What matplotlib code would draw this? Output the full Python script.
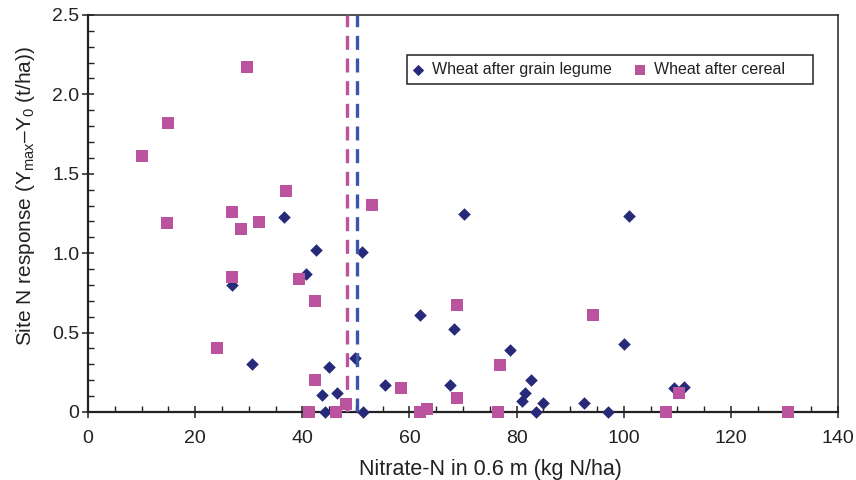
import matplotlib
matplotlib.use('Agg')
import matplotlib.pyplot as plt
from matplotlib.patches import Rectangle
from matplotlib.ticker import MultipleLocator, FuncFormatter

plt.rcParams['font.family'] = ['Liberation Sans', 'DejaVu Sans']
plt.rcParams['mathtext.fontset'] = 'custom'
plt.rcParams['mathtext.rm'] = 'Liberation Sans'
plt.rcParams['mathtext.it'] = 'Liberation Sans:italic'

# wheat after grain legume (diamonds)
legume_x = [26.9, 30.6, 36.5, 40.6, 42.5, 43.7, 44.9, 46.4, 44.3, 49.8,
            51.2, 51.3, 55.5, 61.9, 67.5, 68.3, 70.2, 78.8, 81.1, 81.5,
            82.6, 83.7, 84.9, 92.5, 97.1, 100.0, 101.0, 109.3, 111.3]
legume_y = [0.80, 0.30, 1.23, 0.87, 1.02, 0.11, 0.285, 0.12, 0.0, 0.34,
            1.01, 0.0, 0.17, 0.61, 0.17, 0.525, 1.245, 0.39, 0.067, 0.118,
            0.20, 0.0, 0.055, 0.055, 0.0, 0.43, 1.234, 0.149, 0.155]

# wheat after cereal (squares)
cereal_x = [10.1, 15.0, 14.7, 24.1, 26.8, 26.9, 28.6, 29.7, 31.9, 36.9,
            39.3, 42.4, 42.4, 41.3, 46.2, 48.2, 53.0, 58.4, 62.0, 63.2,
            68.9, 68.9, 76.9, 76.5, 94.3, 107.8, 110.3, 130.7]
cereal_y = [1.614, 1.818, 1.19, 0.405, 0.852, 1.26, 1.154, 2.175, 1.196, 1.394,
            0.838, 0.70, 0.20, 0.0, 0.0, 0.05, 1.305, 0.153, 0.0, 0.02,
            0.674, 0.086, 0.298, 0.0, 0.611, 0.0, 0.122, 0.0]

# critical nitrate levels (dashed lines)
cereal_crit = 48.4
legume_crit = 50.3

navy = '#262a78'
pink = '#bc539f'
blue = '#3a56a8'
ink = '#222222'

fig = plt.figure(figsize=(8.56, 4.8), dpi=100)
ax = fig.add_axes([0.1028, 0.1417, 0.8762, 0.8271])

ax.scatter(legume_x, legume_y, marker='D', s=6.4 ** 2, color=navy, lw=0,
           zorder=3, label='Wheat after grain legume', clip_on=False)
ax.axvline(cereal_crit, color=pink, lw=2.4, dashes=(4.2, 2.6), zorder=4)
ax.axvline(legume_crit, color=blue, lw=2.4, dashes=(4.2, 2.6), zorder=4)
ax.scatter(cereal_x, cereal_y, marker='s', s=8.6 ** 2, color=pink, lw=0,
           zorder=5, label='Wheat after cereal', clip_on=False)

ax.set_xlim(0, 140)
ax.set_ylim(0, 2.5)
ax.xaxis.set_major_locator(MultipleLocator(20))
ax.xaxis.set_minor_locator(MultipleLocator(5))
ax.yaxis.set_major_locator(MultipleLocator(0.5))
ax.yaxis.set_minor_locator(MultipleLocator(0.1))
ax.yaxis.set_major_formatter(FuncFormatter(lambda v, p: '0' if v == 0 else f'{v:.1f}'))

ax.tick_params(which='major', direction='inout', length=8.6, width=1.1,
               labelsize=14, color=ink, labelcolor=ink)
ax.tick_params(axis='x', which='major', pad=9)
ax.tick_params(axis='y', which='major', pad=2)
ax.tick_params(which='minor', direction='in', length=4.3, width=1.0, color=ink)

for side in ['left', 'bottom']:
    ax.spines[side].set_linewidth(1.6)
    ax.spines[side].set_color(ink)
for side in ['top', 'right']:
    ax.spines[side].set_linewidth(1.1)
    ax.spines[side].set_color(ink)

ax.set_xlabel('Nitrate-N in 0.6 m (kg N/ha)', fontsize=15.5, color=ink, labelpad=8)
ax.set_ylabel('Site N response (Y$_{\\mathrm{max}}$–Y$_0$ (t/ha))', fontsize=15.0,
              color=ink, labelpad=11)
# labels sit a little off-centre in the original
ax.xaxis.label.set_x(0.536)
ax.yaxis.label.set_y(0.543)

# legend box with wide right margin, as in the original
ax.add_patch(Rectangle((0.4253, 0.8262), 0.967 - 0.4253, 0.8992 - 0.8262,
                       transform=ax.transAxes, fill=True, facecolor='white',
                       edgecolor=ink, lw=1.1, zorder=6))
leg = ax.legend(loc='center left', bbox_to_anchor=(0.4251, 0.8627), ncol=2,
                fontsize=11.5, frameon=False, borderaxespad=0,
                handletextpad=0.475, columnspacing=1.35, handlelength=0.8,
                borderpad=0.3, markerscale=0.9)
leg.set_zorder(7)
for t in leg.get_texts():
    t.set_color(ink)

fig.savefig('out.png', dpi=100)
